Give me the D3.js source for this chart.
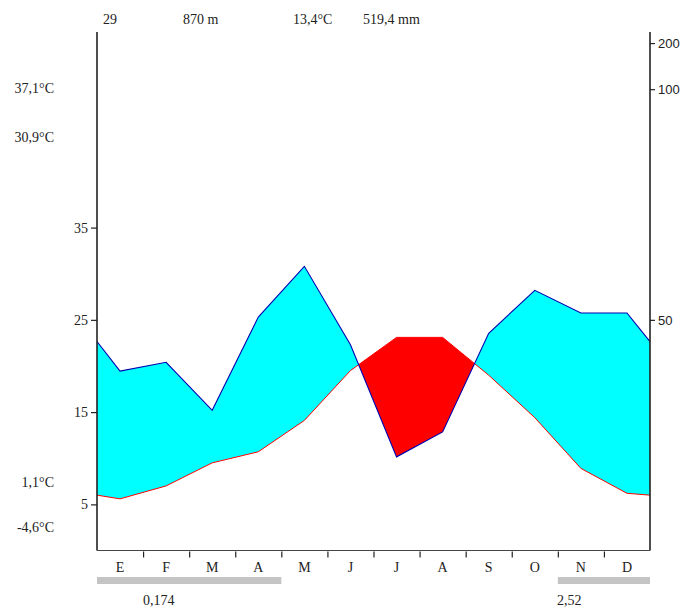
<!DOCTYPE html>
<html>
<head>
<meta charset="utf-8">
<script src="https://cdn.jsdelivr.net/npm/d3@7"></script>
<style>
  html, body { margin: 0; padding: 0; background: #fff; }
  svg { display: block; }
  text { font-family: "Liberation Serif", "Times New Roman", serif; fill: #222; }
</style>
</head>
<body>
<svg id="chart" width="685" height="609"></svg>
<script>
// ---- data ----
const months = ["E", "F", "M", "A", "M", "J", "J", "A", "S", "O", "N", "D"];
const temperature = [5.6, 7.0, 9.5, 10.7, 14.1, 19.5, 23.1, 23.1, 19.0, 14.4, 8.9, 6.2];
const precipitation = [38.9, 40.8, 30.4, 50.6, 61.6, 44.6, 20.3, 25.7, 47.1, 56.4, 51.5, 51.5];
const tempEdge = 6.0;      // value drawn at both diagram edges
const precipEdge = 45.3;   // value drawn at both diagram edges
const tempTicks = [5, 15, 25, 35];
const precipTicks = [50, 100, 200];
const headerLabels = ["29", "870 m", "13,4°C", "519,4 mm"];
const leftLabels = ["37,1°C", "30,9°C", "1,1°C", "-4,6°C"];
const frostPeriods = [[0, 4], [10, 12]];
const frostLabels = ["0,174", "2,52"];

// ---- layout ----
const svg = d3.select("#chart");
const plotLeft = 97, plotRight = 650, plotBottom = 550.5, plotTop = 32;

const x = d3.scaleLinear().domain([0, 12]).range([plotLeft, plotRight]);
const yT = d3.scaleLinear().domain([0, 56.2]).range([plotBottom, plotTop]);
// precipitation: 2 mm per °C up to 100 mm, compressed 1/10 above
const yP = d3.scaleLinear().domain([0, 100, 200]).range([yT(0), yT(50), yT(55)]);

const pts = [{ i: 0, t: tempEdge, p: precipEdge }]
  .concat(months.map((m, i) => ({ i: i + 0.5, t: temperature[i], p: precipitation[i] })))
  .concat([{ i: 12, t: tempEdge, p: precipEdge }]);

const defs = svg.append("defs");
defs.append("clipPath").attr("id", "belowP").append("path")
  .attr("d", d3.area().x(d => x(d.i)).y0(plotBottom).y1(d => yP(d.p))(pts));
defs.append("clipPath").attr("id", "belowT").append("path")
  .attr("d", d3.area().x(d => x(d.i)).y0(plotBottom).y1(d => yT(d.t))(pts));

// humid: below precip and above temperature
svg.append("path")
  .attr("d", d3.area().x(d => x(d.i)).y0(plotTop).y1(d => yT(d.t))(pts))
  .attr("fill", "#00ffff")
  .attr("clip-path", "url(#belowP)");
// arid: below temperature and above precip
svg.append("path")
  .attr("d", d3.area().x(d => x(d.i)).y0(plotTop).y1(d => yP(d.p))(pts))
  .attr("fill", "#ff0000")
  .attr("clip-path", "url(#belowT)");

// lines
svg.append("path")
  .attr("d", d3.line().x(d => x(d.i)).y(d => yT(d.t))(pts))
  .attr("fill", "none").attr("stroke", "#ff0000").attr("stroke-width", 1);
svg.append("path")
  .attr("d", d3.line().x(d => x(d.i)).y(d => yP(d.p))(pts))
  .attr("fill", "none").attr("stroke", "#0000b0").attr("stroke-width", 1.1);

// axes
const axisColor = "#222";
const lAxis = svg.append("g").attr("transform", `translate(${plotLeft},0)`)
  .call(d3.axisLeft(yT).tickValues(tempTicks).tickSize(6).tickPadding(3));
lAxis.select(".domain").remove();
lAxis.selectAll("text").style("font-size", "14px").style("font-family", "Liberation Serif, serif");

const rAxis = svg.append("g").attr("transform", `translate(${plotRight},0)`)
  .call(d3.axisRight(yP).tickValues(precipTicks).tickSize(5).tickPadding(3));
rAxis.select(".domain").remove();
rAxis.selectAll("text").style("font-size", "13px").style("font-family", "Liberation Sans, Arial, sans-serif");

svg.selectAll(".tick line").attr("stroke", axisColor).attr("stroke-width", 1.2);
svg.selectAll(".tick text").attr("fill", "#222");

svg.append("line").attr("x1", plotLeft).attr("x2", plotLeft).attr("y1", plotTop).attr("y2", plotBottom)
  .attr("stroke", axisColor).attr("stroke-width", 1.6);
svg.append("line").attr("x1", plotRight).attr("x2", plotRight).attr("y1", plotTop).attr("y2", plotBottom)
  .attr("stroke", axisColor).attr("stroke-width", 1.6);
svg.append("line").attr("x1", plotLeft).attr("x2", plotRight).attr("y1", plotBottom).attr("y2", plotBottom)
  .attr("stroke", "#444").attr("stroke-width", 1.2);

// month boundary ticks
const bAxis = svg.append("g").attr("transform", `translate(0,${plotBottom + 1})`)
  .call(d3.axisBottom(x).tickValues(d3.range(1, 12)).tickSize(6).tickFormat(""));
bAxis.select(".domain").remove();
bAxis.selectAll("line").attr("stroke", axisColor).attr("stroke-width", 1.2);

// month labels
svg.append("g").selectAll("text").data(months).join("text")
  .attr("x", (d, i) => x(i + 0.5)).attr("y", 572)
  .attr("text-anchor", "middle").style("font-size", "14px")
  .text(d => d);

// frost period bars
svg.append("g").selectAll("rect").data(frostPeriods).join("rect")
  .attr("x", d => x(d[0])).attr("width", d => x(d[1]) - x(d[0]))
  .attr("y", 577).attr("height", 7).attr("fill", "#c4c4c4");
const frostLabelX = [143, 557];
svg.append("g").selectAll("text").data(frostLabels).join("text")
  .attr("x", (d, i) => frostLabelX[i]).attr("y", 605)
  .style("font-size", "14px").text(d => d);

// header labels
const headerX = [103, 183, 293, 363];
svg.append("g").selectAll("text").data(headerLabels).join("text")
  .attr("x", (d, i) => headerX[i]).attr("y", 24)
  .style("font-size", "14px").text(d => d);

// left extreme labels
const leftY = [93, 142, 487, 532];
svg.append("g").selectAll("text").data(leftLabels).join("text")
  .attr("x", 54).attr("y", (d, i) => leftY[i])
  .attr("text-anchor", "end").style("font-size", "14px").text(d => d);
</script>
</body>
</html>
